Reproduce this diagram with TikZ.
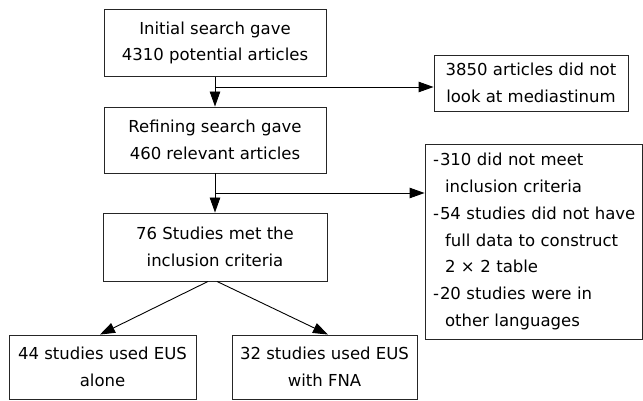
\documentclass[tikz,border=0pt]{standalone}
\usepackage{fontspec}
\setmainfont{DejaVu Sans}
\usetikzlibrary{arrows.meta}
\newcommand\lstitem[1]{\mbox{\hspace*{8pt}\makebox[7pt][l]{-}#1}}
\newcommand\lstcont[1]{\mbox{\hspace*{20pt}#1}}
\begin{document}
\begin{tikzpicture}[x=1pt,y=-1pt,
  box/.style={draw=black!85, line width=0.9pt, align=center, inner sep=0pt,
    font=\fontsize{16.5}{26.7}\selectfont},
  arr/.style={draw=black, line width=0.9pt, -{Triangle[length=15pt,width=10.5pt]}}]
\useasboundingbox (0,0) rectangle (643,401);
\node[box, minimum width=222pt, minimum height=67.5pt] (b1) at (215,43)
  {Initial search gave\\4310 potential articles};
\node[box, minimum width=194pt, minimum height=56pt] (b2) at (531,83)
  {3850 articles did not\\look at mediastinum};
\node[box, minimum width=222pt, minimum height=66pt] (b3) at (215,140)
  {Refining search gave\\460 relevant articles};
\node[box, minimum width=224pt, minimum height=68pt] (b4) at (215,247)
  {76 Studies met the\\inclusion criteria};
\node[box, minimum width=187pt, minimum height=64pt] (b5) at (102.5,367)
  {44 studies used EUS\\alone};
\node[box, minimum width=185pt, minimum height=64pt] (b6) at (324.5,367)
  {32 studies used EUS\\with FNA};
\node[box, align=left, text width=217pt, inner xsep=0pt, minimum height=195pt] (l1) at (533.5,241.5)
  {\lstitem{310 did not meet}\\
   \lstcont{inclusion criteria}\\
   \lstitem{54 studies did not have}\\
   \lstcont{full data to construct}\\
   \lstcont{2 × 2 table}\\
   \lstitem{20 studies were in}\\
   \lstcont{other languages}};
\coordinate (j1) at (215,87);
\coordinate (j2) at (215,193);
\draw[arr] (b1.south) -- (b3.north);
\draw[arr] (j1) -- (j1 -| b2.west);
\draw[arr] (b3.south) -- (b4.north);
\draw[arr] (j2) -- (j2 -| l1.west);
\draw[arr] ([xshift=-7pt]b4.south) -- ([xshift=-2.5pt]b5.north);
\draw[arr] ([xshift=2pt]b4.south) -- ([xshift=3.5pt]b6.north);
\end{tikzpicture}
\end{document}
